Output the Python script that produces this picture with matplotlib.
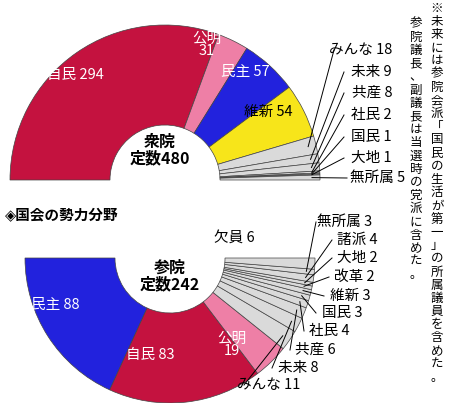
import matplotlib
matplotlib.use("Agg")
import matplotlib.pyplot as plt
from matplotlib.patches import Wedge
import numpy as np

plt.rcParams['font.family'] = ['Noto Sans CJK JP', 'DejaVu Sans']

# 衆院
h_parties = ["自民", "公明", "民主", "維新", "みんな", "未来", "共産", "社民", "国民", "大地", "無所属"]
h_seats = [294, 31, 57, 54, 18, 9, 8, 2, 1, 1, 5]
# 参院
s_parties = ["民主", "自民", "公明", "みんな", "未来", "共産", "社民", "国民", "維新", "改革", "大地", "諸派", "無所属", "欠員"]
s_seats = [88, 83, 19, 11, 8, 6, 4, 3, 3, 2, 2, 4, 3, 6]

CRIM, PINK, BLUE, YEL, GRAY = "#C4123F", "#EE7FA6", "#2222DD", "#F7E51A", "#DADADA"

W, H = 450, 403
fig = plt.figure(figsize=(4.5, 4.03), dpi=100)
ax = fig.add_axes([0, 0, 1, 1])
ax.set_xlim(0, W); ax.set_ylim(0, H); ax.axis('off')

def Y(y): return H - y

def half(vals, parties, center, r, top, cmap):
    total = sum(vals)
    out = []
    cum = 0
    for v, p in zip(vals, parties):
        if top:
            t2 = 180 - cum / total * 180; t1 = 180 - (cum + v) / total * 180
        else:
            t1 = 180 + cum / total * 180; t2 = 180 + (cum + v) / total * 180
        w = Wedge(center, r, t1, t2, width=r - 55, facecolor=cmap.get(p, GRAY),
                  edgecolor="#444", linewidth=0.5)
        ax.add_patch(w)
        out.append((t1 + t2) / 2)
        cum += v
    return out

ch = (165, Y(180)); rh = 155
ah = half(h_seats, h_parties, ch, rh, True, {"自民": CRIM, "公明": PINK, "民主": BLUE, "維新": YEL})
cs = (170, Y(258)); rs = 145
as_ = half(s_seats, s_parties, cs, rs, False, {"自民": CRIM, "公明": PINK, "民主": BLUE})

def pt(c, r, a):
    a = np.deg2rad(a)
    return c[0] + r * np.cos(a), c[1] + r * np.sin(a)

fs = 10.5
ax.text(75, Y(75), "自民 294", color="white", fontsize=fs, ha="center", va="center")
ax.text(207, Y(45), "公明\n31", color="white", fontsize=fs, ha="center", va="center", linespacing=0.9)
ax.text(245, Y(72), "民主 57", color="white", fontsize=fs, ha="center", va="center")
ax.text(268, Y(112), "維新 54", color="black", fontsize=fs, ha="center", va="center")
ax.text(160, Y(150), "衆院\n定数480", color="black", fontsize=fs + 1, ha="center", va="center",
        fontweight="bold", linespacing=1.0)
tops = [(50, 392), (72, 392), (93, 392), (115, 392), (137, 392), (158, 392), (178, 405)]
for i, (yy, xr) in enumerate(tops):
    p = h_parties[4 + i]
    ax.text(xr, Y(yy), f"{p} {h_seats[4+i]}", fontsize=fs, ha="right", va="center")
    mx, my = pt(ch, rh - 8, ah[4 + i])
    xl = xr - 10 * (len(p) + 2) - 8
    ax.plot([mx, xl], [my, Y(yy)], color="black", lw=0.7)

ax.text(55, Y(305), "民主 88", color="white", fontsize=fs, ha="center", va="center")
ax.text(150, Y(355), "自民 83", color="white", fontsize=fs, ha="center", va="center")
ax.text(232, Y(345), "公明\n19", color="white", fontsize=fs, ha="center", va="center", linespacing=0.9)
ax.text(170, Y(276), "参院\n定数242", color="black", fontsize=fs + 1, ha="center", va="center",
        fontweight="bold", linespacing=1.0)
bot = {"みんな": (385, 300), "未来": (368, 318), "共産": (350, 336), "社民": (331, 350),
       "国民": (313, 362), "維新": (296, 370), "改革": (277, 375), "大地": (258, 378),
       "諸派": (240, 378), "無所属": (222, 372), "欠員": (238, 255)}
for i, p in enumerate(s_parties):
    if p not in bot:
        continue
    yy, xr = bot[p]
    ax.text(xr, Y(yy), f"{p} {s_seats[i]}", fontsize=fs, ha="right", va="center")
    if p == "欠員":
        continue
    mx, my = pt(cs, rs - 8, as_[i])
    xl = xr - 10 * (len(p) + 2) - 6
    ax.plot([mx, xl], [my, Y(yy)], color="black", lw=0.7)

ax.text(5, Y(215), "◈国会の勢力分野", fontsize=fs, ha="left", va="center", fontweight="bold")

note1 = "※未来には参院会派「国民の生活が第一」の所属議員を含めた。"
note2 = "参院議長、副議長は当選時の党派に含めた。"
for x, s, y0 in [(437, note1, 8), (416, note2, 24)]:
    for k, c in enumerate(s):
        ax.text(x, Y(y0 + k * 13.2), c, fontsize=9, ha="center", va="center")

fig.savefig("out.png", dpi=100)
